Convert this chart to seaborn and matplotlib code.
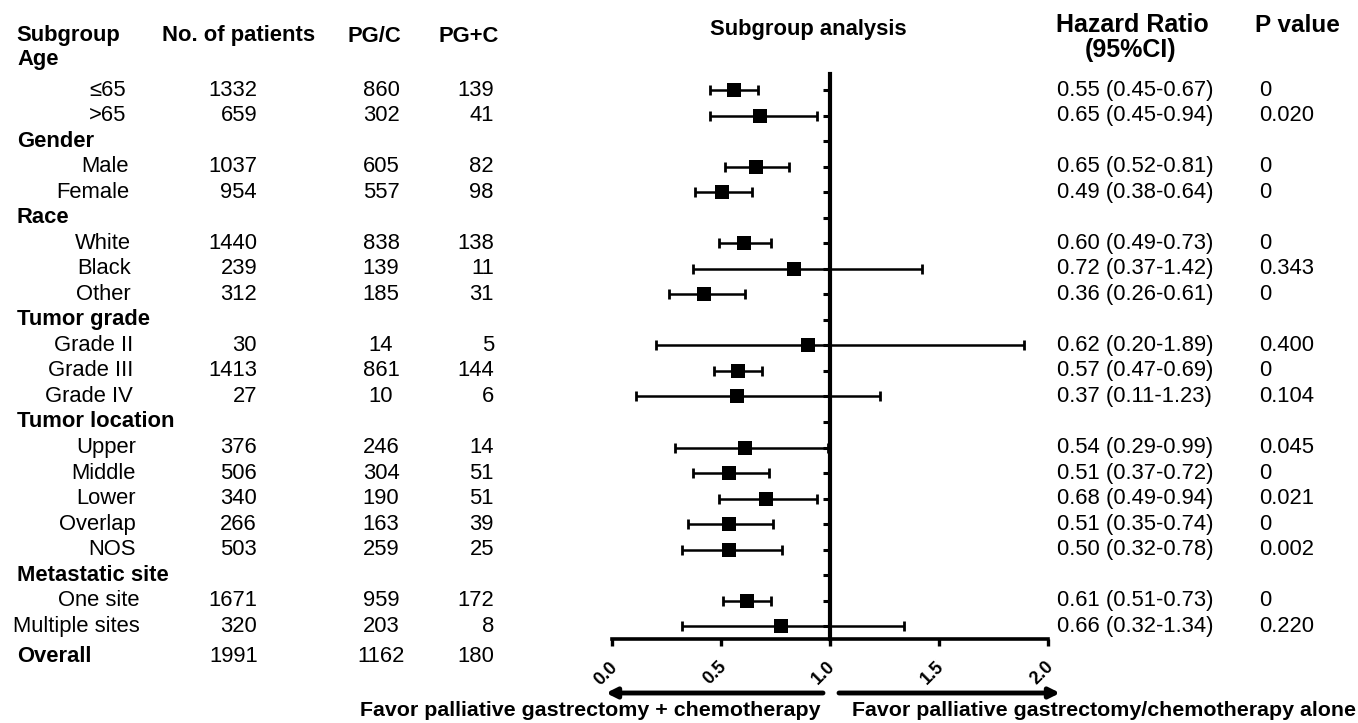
import matplotlib.pyplot as plt
import matplotlib.transforms as mtransforms
import seaborn as sns

# subgroup table
groups = ["Age", "Gender", "Race", "Tumor grade", "Tumor location", "Metastatic site"]
items = [["≤65", ">65"],
         ["Male", "Female"],
         ["White", "Black", "Other"],
         ["Grade II", "Grade III", "Grade IV"],
         ["Upper", "Middle", "Lower", "Overlap", "NOS"],
         ["One site", "Multiple sites"]]
n_patients = [1332, 659, 1037, 954, 1440, 239, 312, 30, 1413, 27, 376, 506, 340, 266, 503, 1671, 320]
pg_c = [860, 302, 605, 557, 838, 139, 185, 14, 861, 10, 246, 304, 190, 163, 259, 959, 203]
pg_plus_c = [139, 41, 82, 98, 138, 11, 31, 5, 144, 6, 14, 51, 51, 39, 25, 172, 8]
hr_text = ["0.55 (0.45-0.67)", "0.65 (0.45-0.94)", "0.65 (0.52-0.81)", "0.49 (0.38-0.64)",
           "0.60 (0.49-0.73)", "0.72 (0.37-1.42)", "0.36 (0.26-0.61)", "0.62 (0.20-1.89)",
           "0.57 (0.47-0.69)", "0.37 (0.11-1.23)", "0.54 (0.29-0.99)", "0.51 (0.37-0.72)",
           "0.68 (0.49-0.94)", "0.51 (0.35-0.74)", "0.50 (0.32-0.78)", "0.61 (0.51-0.73)",
           "0.66 (0.32-1.34)"]
p_text = ["0", "0.020", "0", "0", "0", "0.343", "0", "0.400", "0", "0.104",
          "0.045", "0", "0.021", "0", "0.002", "0", "0.220"]
overall = ["1991", "1162", "180"]

# marker positions and CI as drawn in the forest plot
hr_point = [0.56, 0.68, 0.66, 0.505, 0.605, 0.835, 0.42, 0.90, 0.58, 0.575,
            0.61, 0.535, 0.705, 0.535, 0.535, 0.62, 0.775]
ci_low = [0.45, 0.45, 0.52, 0.38, 0.49, 0.37, 0.26, 0.20, 0.47, 0.11,
          0.29, 0.37, 0.49, 0.35, 0.32, 0.51, 0.32]
ci_high = [0.67, 0.94, 0.81, 0.64, 0.73, 1.42, 0.61, 1.89, 0.69, 1.23,
           0.99, 0.72, 0.94, 0.74, 0.78, 0.73, 1.34]
x_ticks = [0.0, 0.5, 1.0, 1.5, 2.0]

sns.set_theme(style="white")
plt.rcParams['font.family'] = ['Liberation Sans', 'DejaVu Sans']
plt.rcParams['text.color'] = 'black'
plt.rcParams['xtick.color'] = 'black'

W, H = 1358, 723
FS = 15.8


def fx(px):
    return px / W


def fy(py):
    return 1 - py / H


fig = plt.figure(figsize=(W / 100, H / 100), dpi=100)
ax = fig.add_axes([fx(612), fy(639), (1048 - 612) / W, (639 - 74) / H])

# row index for every header / item (Age header sits above the axis)
header_rows = []
item_rows = []
item_group = []
row = -1
for gi, (g, its) in enumerate(zip(groups, items)):
    header_rows.append(row)
    row += 1
    for _ in its:
        item_rows.append(row)
        item_group.append(gi)
        row += 1
n_rows = row
item_names = [name for its in items for name in its]

# forest plot
lo_err = [h - l for h, l in zip(hr_point, ci_low)]
hi_err = [u - h for h, u in zip(hr_point, ci_high)]
ax.errorbar(hr_point, item_rows, xerr=[lo_err, hi_err], fmt='none', ecolor='black',
            elinewidth=1.8, capsize=3.8, capthick=2, zorder=3)
sns.scatterplot(x=hr_point, y=item_rows, marker='s', s=90, color='black',
                edgecolor='black', linewidth=0, ax=ax, zorder=4, legend=False)

ax.set_xlim(0, 2)
ax.set_ylim(n_rows - 0.5, -0.63)
for side in ['top', 'right']:
    ax.spines[side].set_visible(False)
ax.spines['left'].set_position(('data', 1.0))
ax.spines['left'].set_linewidth(3)
ax.spines['bottom'].set_linewidth(2.6)
for side in ['left', 'bottom']:
    ax.spines[side].set_color('black')
ax.set_yticks(range(n_rows))
ax.set_yticklabels([])
ax.tick_params(axis='y', left=True, direction='out', length=5, width=2.2, color='black')
ax.set_xticks(x_ticks)
ax.set_xticklabels([f"{t:.1f}" for t in x_ticks], rotation=45, fontsize=13,
                   fontweight='bold', ha='center')
ax.tick_params(axis='x', bottom=True, direction='out', length=5, width=2.4,
               color='black', pad=9)
shift = mtransforms.ScaledTranslation(-6 / 100, 0, fig.dpi_scale_trans)
for lbl in ax.get_xticklabels():
    lbl.set_transform(lbl.get_transform() + shift)
ax.set_facecolor('white')

# table text
tr = mtransforms.blended_transform_factory(fig.transFigure, ax.transData)


def put(px, y, s, ha, bold=False, transform=tr, size=FS):
    fig.text(px / W, y, s, ha=ha, va='center', fontsize=size, color='black',
             fontweight='bold' if bold else 'normal', transform=transform)


# column headers
put(16, fy(36), "Subgroup", 'left', True, fig.transFigure)
put(239, fy(36), "No. of patients", 'center', True, fig.transFigure)
put(374, fy(36), "PG/C", 'center', True, fig.transFigure)
put(469, fy(36), "PG+C", 'center', True, fig.transFigure)
put(710, fy(30), "Subgroup analysis", 'left', True, fig.transFigure)
put(1132, fy(25), "Hazard Ratio", 'center', True, fig.transFigure, 18)
put(1131, fy(50), "(95%CI)", 'center', True, fig.transFigure, 18)
put(1255, fy(25), "P value", 'left', True, fig.transFigure, 17.5)

for g, r in zip(groups, header_rows):
    put(17, r - 0.2 if r < 0 else r, g, 'left', True)

label_right = [126, 129, 131, 133, 136, 140]
for k, r in enumerate(item_rows):
    put(label_right[item_group[k]], r, item_names[k], 'right')
    put(257, r, str(n_patients[k]), 'right')
    put(381, r, str(pg_c[k]), 'center')
    put(494, r, str(pg_plus_c[k]), 'right')
    put(1057, r, hr_text[k], 'left')
    put(1259, r, p_text[k], 'left')

overall_row = n_rows + 0.2
put(17, overall_row, "Overall", 'left', True)
put(258, overall_row, overall[0], 'right')
put(381, overall_row, overall[1], 'center')
put(494, overall_row, overall[2], 'right')

# direction arrows and captions
arrow = dict(arrowstyle='-|>', color='black', lw=3.5, mutation_scale=15, shrinkA=0, shrinkB=0)
fig.add_artist(plt.Annotation('', xy=(fx(606), fy(693)), xytext=(fx(823), fy(693)),
                              xycoords='figure fraction', arrowprops=arrow))
fig.add_artist(plt.Annotation('', xy=(fx(1060), fy(693)), xytext=(fx(839), fy(693)),
                              xycoords='figure fraction', arrowprops=arrow))
put(820, fy(711), "Favor palliative gastrectomy + chemotherapy", 'right', True,
    fig.transFigure, 15.4)
put(852, fy(711), "Favor palliative gastrectomy/chemotherapy alone", 'left', True,
    fig.transFigure, 15.4)

fig.savefig("out.png", dpi=100, facecolor='white')
